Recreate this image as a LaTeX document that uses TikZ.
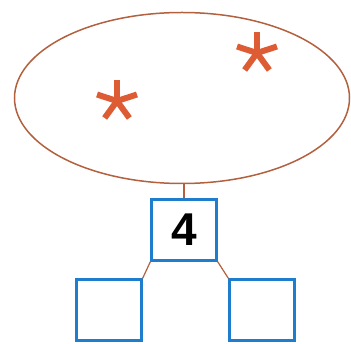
\documentclass[tikz,border=0pt]{standalone}
\usepackage{fontspec}
\setmainfont{Liberation Sans}
\usepackage{xcolor}
\usetikzlibrary{shapes.geometric}
\definecolor{setBrown}{RGB}{178, 96, 62}
\definecolor{starOrange}{RGB}{222, 92, 52}
\definecolor{boxBlue}{RGB}{30, 125, 205}

\begin{document}
\begin{tikzpicture}[x=1pt,y=-1pt]
                    \tikzstyle{numbox} = [draw=boxBlue, line width=2.2pt, minimum width=65pt, minimum height=61pt, inner sep=0pt]
                    \tikzstyle{link} = [draw=setBrown, line width=1.2pt]
                    \useasboundingbox (0,0) rectangle (351,344);
                    \node[numbox] (whole) at (184,230) {};
                    \node[font=\fontsize{46}{46}\selectfont\bfseries] (four) at (whole) {4};
                    \node[numbox] (left) at (109,310) {};
                    \node[numbox] (right) at (262,310) {};
                    \node[ellipse, draw=setBrown, line width=1.5pt, minimum width=335pt, minimum height=171pt, inner sep=0pt] (set) at (182,98) {};
                    \foreach \cx/\cy in {117/101, 257/53} {
                        \foreach \a in {90,162,234,306,18} {
                            \draw[starOrange, line width=6pt] (\cx,\cy) -- ++(\a:-21);
                        }
                    }
                    \draw[link] (set.south -| whole.north) -- (whole.north);
                    \draw[link] (whole.south west) -- (left.north east);
                    \draw[link] (whole.south east) -- (right.north west);
                \end{tikzpicture}
\end{document}
